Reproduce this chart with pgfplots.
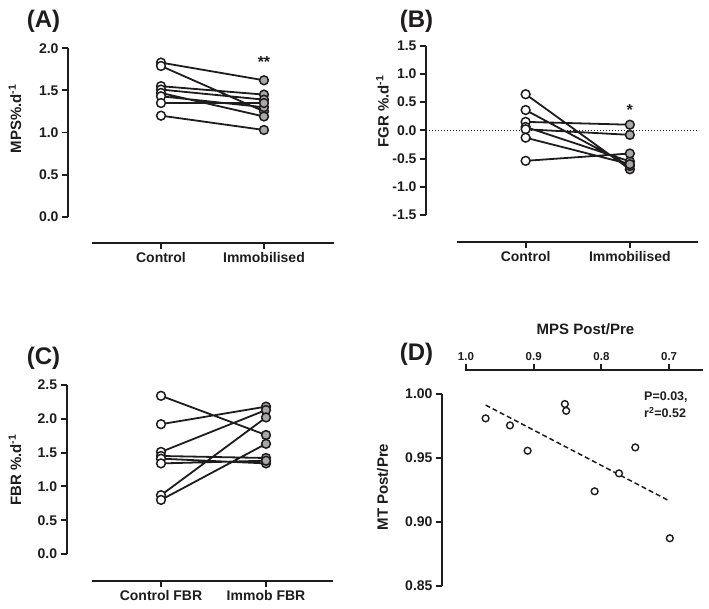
\documentclass[border=0pt]{standalone}
\usepackage{pgfplots}
\pgfplotsset{compat=1.18}
\usepackage{fontspec}
\setmainfont{Liberation Sans}
\definecolor{ink}{HTML}{1E1C1D}
\definecolor{fillg}{HTML}{A8A8A8}
\pgfplotsset{
  gp/.style={
    scale only axis, clip=false, anchor=north west,
    axis x line*=bottom, axis y line*=left,
    x axis line style={draw=none}, y axis line style={draw=none},
    tick align=outside, major tick length=6pt,
    tick style={line width=1.9pt, ink},
    ticklabel style={font=\fontsize{14}{16}\selectfont\bfseries, text=ink},
    /pgf/number format/assume math mode=true,
    unbounded coords=jump,
  },
  pairline/.style={line width=1.8pt, ink, no markers},
  ctrl/.style={only marks, mark=*, mark size=4.4pt, mark options={fill=white, draw=ink, line width=1.5pt}},
  immo/.style={only marks, mark=*, mark size=4.4pt, mark options={fill=fillg, draw=ink, line width=1.5pt}},
}
\begin{document}
\begin{tikzpicture}
\useasboundingbox (0pt,0pt) rectangle (709pt,609pt);

% ---------------- Panel A
\begin{axis}[gp, at={(68pt,560.7pt)}, width=266pt, height=194.7pt,
  xmin=-0.903, xmax=1.680, ymin=-0.312, ymax=2.0,
  xtick={0,1}, xticklabels={Control,Immobilised},
  ytick={0,0.5,1.0,1.5,2.0},
  yticklabel style={/pgf/number format/.cd, fixed, fixed zerofill, precision=1}]
\draw[line width=2.2pt, ink] (axis cs:-0.903,0) -- (axis cs:-0.903,2);
\draw[line width=2.2pt, ink] (axis cs:-0.67,-0.312) -- (axis cs:1.68,-0.312);
\addplot[pairline] coordinates {
 (0,1.83) (1,1.62) (0.5,nan)
 (0,1.79) (1,1.25) (0.5,nan)
 (0,1.55) (1,1.45) (0.5,nan)
 (0,1.51) (1,1.39) (0.5,nan)
 (0,1.47) (1,1.19) (0.5,nan)
 (0,1.43) (1,1.30) (0.5,nan)
 (0,1.35) (1,1.35) (0.5,nan)
 (0,1.20) (1,1.03)};
\addplot[ctrl] coordinates {(0,1.83) (0,1.79) (0,1.55) (0,1.51) (0,1.47) (0,1.43) (0,1.35) (0,1.20)};
\addplot[immo] coordinates {(1,1.62) (1,1.25) (1,1.45) (1,1.39) (1,1.19) (1,1.30) (1,1.35) (1,1.03)};
\node[font=\fontsize{16}{16}\selectfont\bfseries, text=ink] at (axis cs:1,1.84) {**};
\end{axis}

% ---------------- Panel B
\begin{axis}[gp, at={(426pt,563.3pt)}, width=272pt, height=196.3pt,
  xmin=-0.956, xmax=1.654, ymin=-1.978, ymax=1.5,
  xtick={0,1}, xticklabels={Control,Immobilised},
  ytick={-1.5,-1.0,-0.5,0,0.5,1.0,1.5},
  yticklabel style={/pgf/number format/.cd, fixed, fixed zerofill, precision=1}]
\draw[line width=2.2pt, ink] (axis cs:-0.956,-1.5) -- (axis cs:-0.956,1.5);
\draw[line width=2.2pt, ink] (axis cs:-0.659,-1.978) -- (axis cs:1.654,-1.978);
\draw[line width=1.4pt, ink, dash pattern=on 1.3pt off 1.7pt] (axis cs:-0.956,0) -- (axis cs:1.654,0);
\addplot[pairline] coordinates {
 (0,0.64) (1,-0.69) (0.5,nan)
 (0,0.36) (1,-0.63) (0.5,nan)
 (0,0.15) (1,0.10) (0.5,nan)
 (0,0.06) (1,-0.55) (0.5,nan)
 (0,0.02) (1,-0.08) (0.5,nan)
 (0,-0.13) (1,-0.60) (0.5,nan)
 (0,-0.54) (1,-0.41)};
\addplot[ctrl] coordinates {(0,0.64) (0,0.36) (0,0.15) (0,0.06) (0,0.02) (0,-0.13) (0,-0.54)};
\addplot[immo] coordinates {(1,-0.69) (1,-0.63) (1,0.10) (1,-0.55) (1,-0.08) (1,-0.60) (1,-0.41)};
\node[font=\fontsize{16}{16}\selectfont\bfseries, text=ink] at (axis cs:1,0.36) {*};
\end{axis}

% ---------------- Panel C
\begin{axis}[gp, at={(66.7pt,224pt)}, width=266.3pt, height=195.7pt,
  xmin=-0.898, xmax=1.638, ymin=-0.395, ymax=2.5,
  xtick={0,1}, xticklabels={Control FBR,Immob FBR},
  ytick={0,0.5,1.0,1.5,2.0,2.5},
  yticklabel style={/pgf/number format/.cd, fixed, fixed zerofill, precision=1}]
\draw[line width=2.2pt, ink] (axis cs:-0.898,0) -- (axis cs:-0.898,2.5);
\draw[line width=2.2pt, ink] (axis cs:-0.657,-0.395) -- (axis cs:1.638,-0.395);
\addplot[pairline] coordinates {
 (0,2.34) (1,1.76) (0.5,nan)
 (0,1.92) (1,2.18) (0.5,nan)
 (0,1.51) (1,2.13) (0.5,nan)
 (0,0.87) (1,2.02) (0.5,nan)
 (0,0.80) (1,1.63) (0.5,nan)
 (0,1.45) (1,1.42) (0.5,nan)
 (0,1.41) (1,1.34) (0.5,nan)
 (0,1.34) (1,1.38)};
\addplot[ctrl] coordinates {(0,2.34) (0,1.92) (0,1.51) (0,0.87) (0,0.80) (0,1.45) (0,1.41) (0,1.34)};
\addplot[immo] coordinates {(1,1.76) (1,2.18) (1,2.13) (1,2.02) (1,1.63) (1,1.42) (1,1.34) (1,1.38)};
\end{axis}

% ---------------- Panel D
\begin{axis}[gp, at={(442pt,239pt)}, width=261pt, height=216pt,
  axis x line*=top,
  x dir=reverse,
  xmin=0.650, xmax=1.0354, ymin=0.85, ymax=1.0188,
  xtick={0.7,0.8,0.9,1.0}, ytick={0.85,0.90,0.95,1.00},
  xticklabel style={font=\fontsize{11.5}{13}\selectfont\bfseries, /pgf/number format/.cd, fixed, fixed zerofill, precision=1},
  yticklabel style={/pgf/number format/.cd, fixed, fixed zerofill, precision=2}]
\draw[line width=2.2pt, ink] (axis cs:1.0354,0.85) -- (axis cs:1.0354,1.00);
\draw[line width=2.2pt, ink] (axis cs:1.0015,1.0188) -- (axis cs:0.650,1.0188);
\addplot[line width=1.5pt, ink, dash pattern=on 5pt off 3pt, no markers] coordinates {(0.971,0.9914) (0.699,0.9163)};
\addplot[only marks, mark=*, mark size=3.4pt, mark options={fill=white, draw=ink, line width=1.4pt}] coordinates {
 (0.971,0.981) (0.935,0.9755) (0.909,0.9557) (0.854,0.9922) (0.852,0.9869)
 (0.810,0.924) (0.774,0.938) (0.750,0.9583) (0.699,0.8873)};
\end{axis}

% ---------------- labels
\begin{scope}[every node/.style={text=ink, font=\fontsize{15}{15}\selectfont\bfseries}]
\node[rotate=90] at (15pt,490pt) {MPS\%.d\textsuperscript{-1}};
\node[rotate=90] at (382.5pt,497.5pt) {FGR \%.d\textsuperscript{-1}};
\node[rotate=90] at (15pt,139pt) {FBR \%.d\textsuperscript{-1}};
\node[rotate=90] at (382.5pt,122pt) {MT Post/Pre};
\node at (585.5pt,280pt) {MPS Post/Pre};
\end{scope}
\begin{scope}[every node/.style={text=ink, font=\fontsize{24}{24}\selectfont\bfseries}]
\node at (43.5pt,588pt) {(A)};
\node at (416.5pt,588pt) {(B)};
\node at (43.5pt,250.5pt) {(C)};
\node at (416.5pt,255pt) {(D)};
\end{scope}
\begin{scope}[every node/.style={text=ink, font=\fontsize{12.5}{14}\selectfont\bfseries, anchor=base west, inner sep=0pt}]
\node at (644pt,208pt) {P=0.03,};
\node at (644pt,191pt) {r\textsuperscript{2}=0.52};
\end{scope}
\end{tikzpicture}
\end{document}
